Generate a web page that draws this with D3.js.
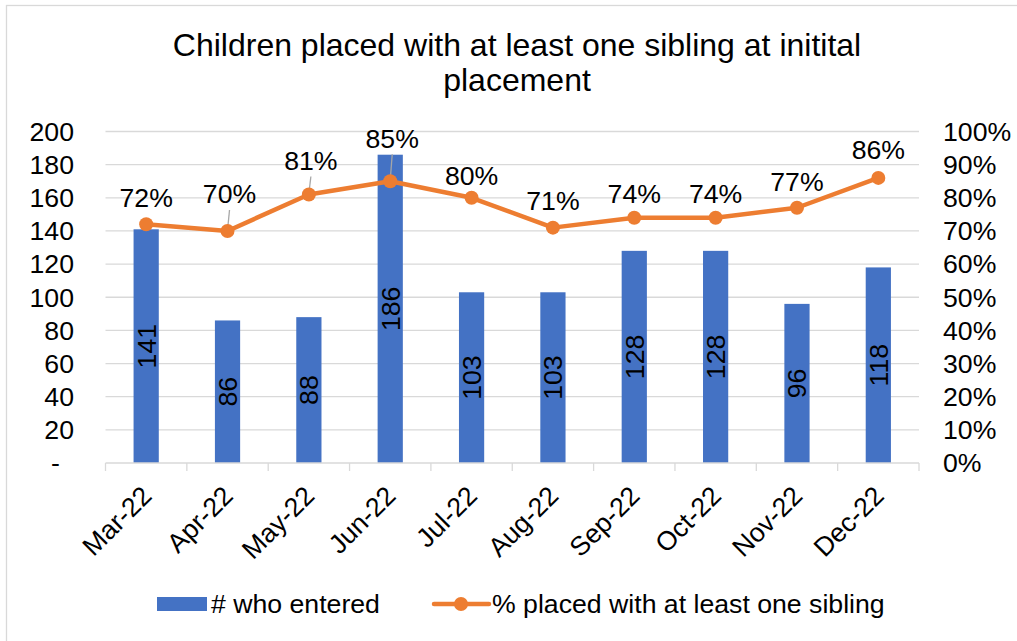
<!DOCTYPE html>
<html>
<head>
<meta charset="utf-8">
<script src="https://cdn.jsdelivr.net/npm/d3@7"></script>
<style>
  html, body { margin: 0; padding: 0; background: #fff; }
  svg { display: block; font-family: "Liberation Sans", Arial, sans-serif; }
</style>
</head>
<body>
<svg id="chart" width="1017" height="641"></svg>
<script>
// ---- data ----
const months = ["Mar-22","Apr-22","May-22","Jun-22","Jul-22","Aug-22","Sep-22","Oct-22","Nov-22","Dec-22"];
const entered = [141, 86, 88, 186, 103, 103, 128, 128, 96, 118];
const pctSibling = [0.72, 0.70, 0.81, 0.85, 0.80, 0.71, 0.74, 0.74, 0.77, 0.86];
const leftTicks = [0, 20, 40, 60, 80, 100, 120, 140, 160, 180, 200];
const rightTicks = [0, 0.1, 0.2, 0.3, 0.4, 0.5, 0.6, 0.7, 0.8, 0.9, 1.0];
const titleLines = ["Children placed with at least one sibling at initital", "placement"];
const seriesNames = ["# who entered", "% placed with at least one sibling"];

// label layout (px lift above point; which labels use leader lines)
const labelLift = [27, 37, 34, 43, 22, 27, 24, 24, 26, 28];
const hasLeader = [false, true, true, true, false, false, false, false, false, false];

const BLUE = "#4472C4", ORANGE = "#ED7D31", GRID = "#D9D9D9";
const FS = 26.67;

const svg = d3.select("#chart");
const plot = { left: 105.5, right: 919, top: 131.5, bottom: 463 };

// border
svg.append("rect").attr("x", 6.5).attr("y", 5.5).attr("width", 1040).attr("height", 660)
  .attr("fill", "none").attr("stroke", GRID).attr("stroke-width", 1.3);

// title
svg.append("text").attr("x", 517).attr("y", 56).attr("text-anchor", "middle")
  .attr("font-size", 32).attr("fill", "#000")
  .selectAll("tspan").data(titleLines).join("tspan")
  .attr("x", 517).attr("dy", (d, i) => i === 0 ? 0 : 35).text(d => d);

const x = d3.scaleBand().domain(months).range([plot.left, plot.right])
  .paddingInner(0.69).paddingOuter(0.345);
const yL = d3.scaleLinear().domain([0, 200]).range([plot.bottom, plot.top]);
const yR = d3.scaleLinear().domain([0, 1]).range([plot.bottom, plot.top]);

// gridlines
svg.append("g").selectAll("line").data(leftTicks.slice(1)).join("line")
  .attr("x1", plot.left).attr("x2", plot.right)
  .attr("y1", d => yL(d)).attr("y2", d => yL(d))
  .attr("stroke", GRID).attr("stroke-width", 1.3);

// left axis labels
svg.append("g").selectAll("text").data(leftTicks).join("text")
  .attr("x", d => d === 0 ? 60 : 74).attr("y", d => yL(d)).attr("dy", "0.35em")
  .attr("text-anchor", "end").attr("font-size", FS).attr("fill", "#000")
  .text(d => d === 0 ? "-" : d3.format("d")(d));

// right axis labels
svg.append("g").selectAll("text").data(rightTicks).join("text")
  .attr("x", 943).attr("y", d => yR(d)).attr("dy", "0.35em")
  .attr("text-anchor", "start").attr("font-size", FS).attr("fill", "#000")
  .text(d => d3.format(".0%")(d));

// bars
svg.append("g").selectAll("rect").data(months).join("rect")
  .attr("x", d => x(d)).attr("width", x.bandwidth())
  .attr("y", (d, i) => yL(entered[i])).attr("height", (d, i) => yL(0) - yL(entered[i]))
  .attr("fill", BLUE);

// category axis line and ticks
svg.append("line").attr("x1", plot.left).attr("x2", plot.right)
  .attr("y1", plot.bottom).attr("y2", plot.bottom).attr("stroke", GRID).attr("stroke-width", 1.3);
const tickXs = d3.range(months.length + 1).map(i => plot.left + i * (plot.right - plot.left) / months.length);
svg.append("g").selectAll("line").data(tickXs).join("line")
  .attr("x1", d => d).attr("x2", d => d).attr("y1", plot.bottom).attr("y2", plot.bottom + 8)
  .attr("stroke", GRID).attr("stroke-width", 1.3);

// category labels
svg.append("g").selectAll("text").data(months).join("text")
  .attr("transform", d => `translate(${x(d) + x.bandwidth() / 2 - 6.5},${484}) rotate(-45)`)
  .attr("text-anchor", "end").attr("dy", "0.72em")
  .attr("font-size", FS).attr("fill", "#000").text(d => d);

// bar value labels
svg.append("g").selectAll("text").data(months).join("text")
  .attr("transform", (d, i) => `translate(${x(d) + x.bandwidth() / 2},${(yL(entered[i]) + yL(0)) / 2}) rotate(-90)`)
  .attr("text-anchor", "middle").attr("dy", "0.35em")
  .attr("font-size", FS).attr("fill", "#000").text((d, i) => entered[i]);

// line
const cx = d => x(d) + x.bandwidth() / 2;
const line = d3.line().x(d => cx(d[0])).y(d => yR(d[1]));
const pts = months.map((m, i) => [m, pctSibling[i]]);
svg.append("path").datum(pts).attr("d", line)
  .attr("fill", "none").attr("stroke", ORANGE).attr("stroke-width", 4.5)
  .attr("stroke-linejoin", "round").attr("stroke-linecap", "round");

// leader lines
svg.append("g").selectAll("line").data(pts.filter((p, i) => hasLeader[i])).join("line")
  .attr("x1", d => cx(d[0]) + 2)
  .attr("y1", d => yR(d[1]) - labelLift[months.indexOf(d[0])] + 16)
  .attr("x2", d => cx(d[0]))
  .attr("y2", d => yR(d[1]) - 1)
  .attr("stroke", "#A6A6A6").attr("stroke-width", 1.3);

svg.append("g").selectAll("circle").data(pts).join("circle")
  .attr("cx", d => cx(d[0])).attr("cy", d => yR(d[1])).attr("r", 7)
  .attr("fill", ORANGE);

// line value labels
svg.append("g").selectAll("text").data(pts).join("text")
  .attr("x", (d, i) => cx(d[0]) + (hasLeader[i] ? 2 : 0))
  .attr("y", (d, i) => yR(d[1]) - labelLift[i]).attr("dy", "0.35em")
  .attr("text-anchor", "middle").attr("font-size", FS).attr("fill", "#000")
  .text(d => d3.format(".0%")(d[1]));

// legend
const lg = svg.append("g");
lg.append("rect").attr("x", 157).attr("y", 597).attr("width", 50).attr("height", 14).attr("fill", BLUE);
lg.append("text").attr("x", 211).attr("y", 604).attr("dy", "0.35em").attr("font-size", FS).text(seriesNames[0]);
lg.append("line").attr("x1", 434).attr("x2", 489).attr("y1", 604).attr("y2", 604)
  .attr("stroke", ORANGE).attr("stroke-width", 4.5).attr("stroke-linecap", "round");
lg.append("circle").attr("cx", 461).attr("cy", 604).attr("r", 7).attr("fill", ORANGE);
lg.append("text").attr("x", 492).attr("y", 604).attr("dy", "0.35em").attr("font-size", FS).text(seriesNames[1]);
</script>
</body>
</html>
